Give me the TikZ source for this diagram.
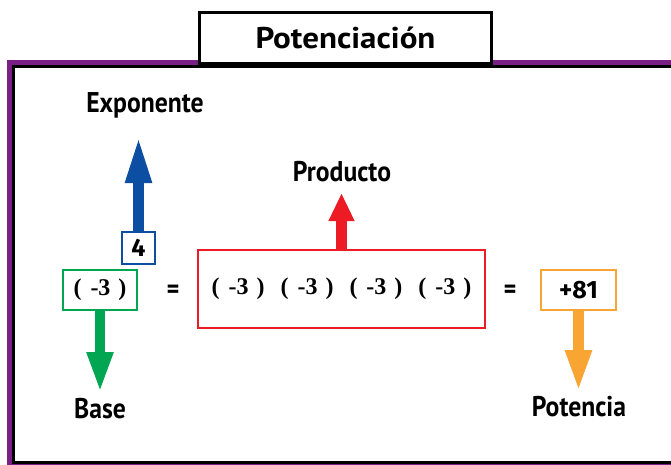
\documentclass[tikz,border=0pt]{standalone}
\usepackage{fontspec}
\setmainfont{Liberation Serif}
\setsansfont{Fira Sans}
\newfontfamily\labfont{PT Sans}[FakeStretch=0.9]
\newfontfamily\titfont{PT Sans}[FakeStretch=1.1]
\usetikzlibrary{arrows.meta}
\definecolor{frpurple}{HTML}{7A1F86}
\definecolor{cblue}{HTML}{0B4EA2}
\definecolor{cgreen}{HTML}{00A651}
\definecolor{cred}{HTML}{ED1C24}
\definecolor{corange}{HTML}{F8A533}
\newcommand{\grp}{(\hspace{9pt}-3\hspace{8pt})}
\tikzset{
  lbl/.style={font=\labfont\bfseries\fontsize{28.5}{30}\selectfont, inner sep=0pt},
  num/.style={font=\rmfamily\bfseries\fontsize{24}{26}\selectfont, inner sep=0pt},
  snum/.style={font=\sffamily\bfseries\fontsize{25}{27}\selectfont, inner sep=0pt},
  cbox/.style={draw=#1, line width=2pt, fill=white, inner sep=0pt},
  bigarrow/.style={draw=#1, line width=10.5pt, line cap=butt},
}
\begin{document}
\begin{tikzpicture}[x=1pt,y=-1pt]
\useasboundingbox (0,0) rectangle (671,464);
% frame
\fill[frpurple] (7,60) rectangle (690,480);
\fill[black] (12,65) rectangle (690,464);
\fill[white] (15,68) rectangle (690,461);
% title
\node[draw=black, line width=3pt, fill=white, minimum width=292pt, minimum height=51pt, inner sep=0pt,
      font=\titfont\bfseries\fontsize{30}{32}\selectfont] (title) at (345.5,38) {Potenciación};
% boxes
\node[cbox=cgreen, minimum width=74pt, minimum height=40pt, num] (base) at (100,290) {\grp};
\node[cbox=cblue, minimum width=33pt, minimum height=32pt, snum] (four) at (138.5,248) {4};
\node[cbox=cred, minimum width=287pt, minimum height=78pt, num] (prod) at (341.5,289)
  {\grp\hspace{16pt}\grp\hspace{16pt}\grp\hspace{16pt}\grp};
\node[cbox=corange, minimum width=75pt, minimum height=40pt, snum] (res) at (578.5,290) {+81};
% equals
\node[snum] (eq1) at (173,291) {=};
\node[snum] (eq2) at (510,291) {=};
% labels
\node[lbl] (expo) at (145,105) {Exponente};
\node[lbl] (produ) at (342,172) {Producto};
\node[lbl] (basel) at (100,409) {Base};
\node[lbl] (pot) at (579,407) {Potencia};
% arrow tips
\coordinate (tE) at (138.5,136);
\coordinate (tP) at (341.5,193);
\coordinate (tB) at (100,393);
\coordinate (tR) at (578.5,392);
% arrows
\draw[bigarrow=cblue, -{Triangle[width=24pt,length=47pt]}, fill=cblue] (four.north) -- (tE);
\draw[bigarrow=cred, -{Triangle[width=24pt,length=28pt]}, fill=cred] (prod.north) -- (tP);
\draw[bigarrow=cgreen, -{Triangle[width=24pt,length=41pt]}, fill=cgreen] (base.south) -- (tB);
\draw[bigarrow=corange, -{Triangle[width=24pt,length=42pt]}, fill=corange] (res.south) -- (tR);
\end{tikzpicture}
\end{document}
